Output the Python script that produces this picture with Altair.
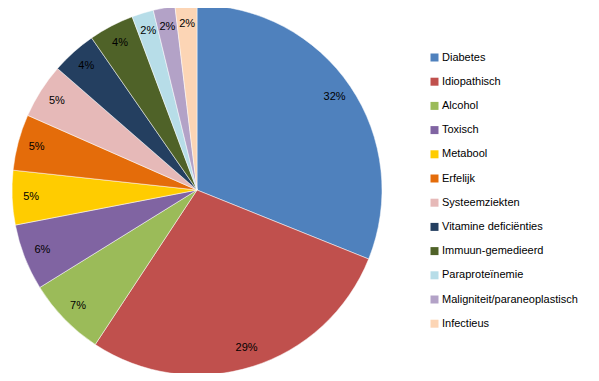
import altair as alt
import pandas as pd

categories = ["Diabetes", "Idiopathisch", "Alcohol", "Toxisch", "Metabool", "Erfelijk",
              "Systeemziekten", "Vitamine deficiënties", "Immuun-gemedieerd",
              "Paraproteïnemie", "Maligniteit/paraneoplastisch", "Infectieus"]
values = [31.1, 28.2, 6.9, 5.8, 4.75, 4.9, 4.8, 3.95, 3.95, 1.9, 1.9, 1.9]
labels = ["32%", "29%", "7%", "6%", "5%", "5%", "5%", "4%", "4%", "2%", "2%", "2%"]
colors = ["#4F81BD", "#C0504D", "#9BBB59", "#8064A2", "#FFCC00", "#E46C0A",
          "#E6B9B8", "#243F60", "#4F6228", "#B7DDE8", "#B3A2C7", "#FCD5B5"]

df = pd.DataFrame({"cat": categories, "val": values, "label": labels,
                   "idx": list(range(len(categories)))})

cx, cy, R = 189, 182, 185

base = alt.Chart(df).encode(
    theta=alt.Theta("val:Q", stack=True),
    order=alt.Order("idx:Q"),
)

pie = base.mark_arc(stroke="white", strokeWidth=0.5).encode(
    x=alt.value(cx), y=alt.value(cy), radius=alt.value(R),
    color=alt.Color("cat:N", scale=alt.Scale(domain=categories, range=colors),
                    legend=alt.Legend(title=None, orient="none", legendX=421, legendY=44,
                                      symbolType="square", symbolSize=64,
                                      symbolStrokeWidth=0, labelFontSize=11,
                                      labelFont="Liberation Sans", labelColor="#000000",
                                      rowPadding=12.2, labelOffset=2, labelLimit=300)),
)

text = base.mark_text(font="Liberation Sans", fontSize=11, color="#000000").encode(
    x=alt.value(cx), y=alt.value(cy), radius=alt.value(166),
    text="label:N",
)

chart = (pie + text).properties(
    width=583, height=365, padding=0, autosize=alt.AutoSizeParams(type="none")
).configure_view(stroke=None)

chart.save("out.html", embed_options={"renderer": "svg", "actions": False})
